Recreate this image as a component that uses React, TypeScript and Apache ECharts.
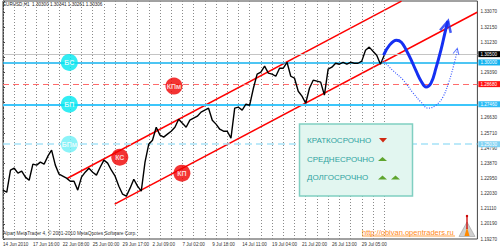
import React, { useEffect, useRef } from "react";
import * as echarts from "echarts";

// ---- axis scales ----
const PRICE_BASE = 1.1927; // lowest price label
const PRICE_STEP = 0.0092; // price label step
const PRICE_TICKS = 15.72; // visible label steps
const BARS_PER_LABEL = 64;
const BARS_PER_DAY = 24;
const BAR_STEP = 8;
const X_MAX = 1015.5;
const DAYS = 35;

const timeLabels = [
  "14 Jun 2010", "17 Jun 16:00", "22 Jun 08:00", "25 Jun 00:00", "29 Jun 17:00",
  "2 Jul 09:00", "7 Jul 02:00", "9 Jul 18:00", "14 Jul 11:00", "19 Jul 04:00",
  "21 Jul 20:00", "26 Jul 13:00", "29 Jul 05:00",
];

// EURUSD H1 closes, sampled every 8 bars
const closes = [
  1.2224, 1.2211, 1.2345, 1.2357, 1.2327, 1.2339, 1.2303, 1.2284, 1.2382, 1.2376,
  1.2394, 1.2382, 1.2430, 1.2467, 1.2376, 1.2321, 1.2309, 1.2297, 1.2278, 1.2278,
  1.2224, 1.2303, 1.2333, 1.2357, 1.2333, 1.2315, 1.2363, 1.2406, 1.2388, 1.2345,
  1.2309, 1.2248, 1.2199, 1.2187, 1.2236, 1.2290, 1.2248, 1.2218, 1.2394, 1.2503,
  1.2527, 1.2606, 1.2558, 1.2546, 1.2564, 1.2582, 1.2606, 1.2655, 1.2631, 1.2606,
  1.2649, 1.2661, 1.2673, 1.2698, 1.2710, 1.2722, 1.2649, 1.2625, 1.2594, 1.2582,
  1.2582, 1.2540, 1.2722, 1.2728, 1.2710, 1.2746, 1.2740, 1.2843, 1.2929, 1.2941,
  1.2977, 1.2935, 1.2929, 1.2916, 1.2965, 1.2965, 1.3001, 1.2916, 1.2904, 1.2825,
  1.2795, 1.2752, 1.2843, 1.2892, 1.2886, 1.2880, 1.2801, 1.2959, 1.2971, 1.2995,
  1.2989, 1.3001, 1.2989, 1.3001, 1.2995, 1.2995, 1.3008, 1.3074, 1.3093, 1.3068,
  1.3044, 1.2989, 1.3044,
];

// horizontal levels
const levelPrices = [1.305, 1.3, 1.2868, 1.2746, 1.2503];
// channel rays [bar, price]
const upperChannel = [[138, 1.2296], [853, 1.3372]];
const lowerChannel = [[239, 1.2139], [1015, 1.3305]];
// forecast paths [bar, price]
const forecastMain = [
  [814.7, 1.3044], [827.4, 1.3105], [842.2, 1.3135], [852.7, 1.3123], [863.3, 1.3074],
  [873.9, 1.3014], [884.5, 1.2947], [895.1, 1.2886], [905.6, 1.2850], [916.2, 1.2874],
  [926.8, 1.2965], [937.4, 1.3074], [945.9, 1.3178], [952.2, 1.3251],
];
const forecastAlt = [
  [812.6, 1.3014], [833.7, 1.2953], [857.0, 1.2892], [878.1, 1.2813], [895.1, 1.2758],
  [909.9, 1.2722], [926.8, 1.2740], [941.6, 1.2789], [954.3, 1.2880], [964.9, 1.2983],
  [973.4, 1.3087],
];
const arrowHeads = [[949.9, 1.3220], [971.1, 1.3068]];
// level tags [name, bar, price]
const tagNames = ["БС", "БП", "БПм", "КПм", "КС", "КП"];
const tagBars = [142, 142, 142, 366, 250, 383];
const tagPrices = [1.3, 1.2746, 1.2503, 1.2856, 1.2424, 1.2327];

const FONT = "Liberation Sans, Arial, sans-serif";
const toV = (p: number) => (p - PRICE_BASE) / PRICE_STEP;

export default function App() {
  const ref = useRef<HTMLDivElement>(null);
  useEffect(() => {
    if (!ref.current) return;
    const chart = echarts.init(ref.current, undefined, { renderer: "svg" });

    const levelStyles = [
      { color: "#c4c4c4", type: "solid", width: 1, bg: "#000000" },
      { color: "#12b2ef", type: "solid", width: 1.5, bg: "#12b2ef" },
      { color: "#ff6b6b", type: [6, 4], width: 1, bg: "#ff1010" },
      { color: "#3cc6fb", type: "solid", width: 2, bg: "#2cbcf5" },
      { color: "#a6e2f7", type: [7, 4], width: 1.5, bg: "#82d2f3" },
    ];
    const tagColors = ["#00e8f0", "#00e8f0", "#6ff0f6", "#f00000", "#f00000", "#f00000"];

    const days: number[] = [];
    for (let d = 0; d < DAYS; d++) days.push(d * BARS_PER_DAY);

    const option: any = {
      animation: false,
      backgroundColor: "#ffffff",
      grid: {
        left: 2, top: 1, width: 480, height: 238, show: true,
        borderColor: "#444", borderWidth: 1, backgroundColor: "#ffffff",
      },
      xAxis: {
        type: "value", min: 0, max: X_MAX, interval: BARS_PER_LABEL,
        axisLine: { show: false }, axisTick: { show: false }, splitLine: { show: false },
        axisLabel: {
          align: "left", fontSize: 4.6, color: "#333", margin: 3, fontFamily: FONT,
          formatter: (v: number) => {
            const k = Math.round(v / BARS_PER_LABEL);
            if (Math.abs(v - k * BARS_PER_LABEL) > 1e-6) return "";
            return timeLabels[k] || "";
          },
        },
      },
      yAxis: {
        type: "value", position: "right", min: 0, max: PRICE_TICKS, interval: 1,
        axisLine: { show: true, lineStyle: { color: "#444" } },
        axisTick: { show: true, length: 2, lineStyle: { color: "#444" } },
        splitLine: { show: false },
        axisLabel: {
          fontSize: 4.6, color: "#333", margin: 3, fontFamily: FONT,
          formatter: (v: number) => {
            if (Math.abs(v - Math.round(v)) > 1e-6) return "";
            const p = PRICE_BASE + v * PRICE_STEP;
            // labels hidden under the level boxes
            if (levelPrices.some((l) => Math.abs(l - p) < 0.0021)) return "";
            return p.toFixed(5);
          },
        },
      },
      series: [
        {
          type: "line", data: [], z: 1, silent: true,
          markLine: {
            silent: true, symbol: ["none", "none"], animation: false,
            label: { show: false },
            lineStyle: { type: [1, 2], color: "#8a8a8a", width: 1 },
            data: days.map((d) => ({ xAxis: d })),
          },
        },
        {
          type: "line", data: [], z: 3, silent: true,
          markLine: {
            silent: true, symbol: ["none", "none"], animation: false,
            data: levelPrices.map((p, i) => ({
              yAxis: toV(p),
              lineStyle: { color: levelStyles[i].color, type: levelStyles[i].type, width: levelStyles[i].width },
              label: {
                show: true, position: "end", distance: 1,
                formatter: p.toFixed(5), color: "#fff", fontSize: 4.6, fontFamily: FONT,
                backgroundColor: levelStyles[i].bg, padding: [0.5, 3, 0.5, 2],
              },
            })),
          },
        },
        {
          type: "line", z: 5, showSymbol: false, silent: true,
          data: closes.map((p, i) => [i * BAR_STEP, toV(p)]),
          lineStyle: { color: "#000", width: 1.4 },
        },
        {
          type: "line", z: 4, showSymbol: false, silent: true,
          data: upperChannel.map(([b, p]) => [b, toV(p)]),
          lineStyle: { color: "#ff0000", width: 1.5 },
        },
        {
          type: "line", z: 4, showSymbol: false, silent: true,
          data: lowerChannel.map(([b, p]) => [b, toV(p)]),
          lineStyle: { color: "#ff0000", width: 1.5 },
        },
        {
          type: "line", z: 6, showSymbol: false, silent: true, smooth: 0.4,
          data: forecastMain.map(([b, p]) => [b, toV(p)]),
          lineStyle: { color: "#1530f2", width: 3 },
        },
        {
          type: "line", z: 6, showSymbol: false, silent: true, smooth: 0.4,
          data: forecastAlt.map(([b, p]) => [b, toV(p)]),
          lineStyle: { color: "#3a58ff", width: 1.2, type: [1, 1.5] },
        },
        {
          type: "scatter", z: 7, silent: true,
          symbol: "path://M0,12 L6,0 L12,12",
          data: [
            { value: [arrowHeads[0][0], toV(arrowHeads[0][1])], symbolSize: [11, 11], symbolRotate: -14,
              itemStyle: { color: "rgba(0,0,0,0)", borderColor: "#1530f2", borderWidth: 2.5 } },
            { value: [arrowHeads[1][0], toV(arrowHeads[1][1])], symbolSize: [6, 6], symbolRotate: -13,
              itemStyle: { color: "rgba(0,0,0,0)", borderColor: "#3a58ff", borderWidth: 1 } },
          ],
        },
        {
          type: "scatter", z: 10, silent: true, symbolSize: 17,
          data: tagNames.map((n, i) => ({
            name: n, value: [tagBars[i], toV(tagPrices[i])],
            itemStyle: { color: tagColors[i] },
          })),
          label: {
            show: true, position: "inside", formatter: "{b}", color: "#fff",
            fontSize: 7, fontFamily: FONT, fontWeight: "bold",
          },
        },
      ],
      graphic: [
        { type: "text", z: 100, left: 3, top: 2,
          style: { text: "EURUSD,H1  1.30300 1.30341 1.30261 1.30306", fontSize: 4.6, fill: "#222", fontFamily: FONT } },
        { type: "text", z: 100, left: 3, top: 231,
          style: { text: "Alpari MetaTrader 4, © 2001-2010 MetaQuotes Software Corp.", fontSize: 4.8, fill: "#333", fontFamily: FONT } },
        { type: "rect", z: 100, shape: { x: 299.5, y: 124, width: 113, height: 72 },
          style: { fill: "#e2f6f0", stroke: "#80cfc1", lineWidth: 1.5 } },
        { type: "text", z: 101, x: 307, y: 140.5,
          style: { text: "КРАТКОСРОЧНО", fontSize: 8, fill: "#2fa3a0", fontFamily: FONT, verticalAlign: "middle" } },
        { type: "text", z: 101, x: 307, y: 159,
          style: { text: "СРЕДНЕСРОЧНО", fontSize: 8, fill: "#2fa3a0", fontFamily: FONT, verticalAlign: "middle" } },
        { type: "text", z: 101, x: 307, y: 177.5,
          style: { text: "ДОЛГОСРОЧНО", fontSize: 8, fill: "#2fa3a0", fontFamily: FONT, verticalAlign: "middle" } },
        { type: "polygon", z: 101, shape: { points: [[379, 138], [387, 138], [383, 142.5]] }, style: { fill: "#d02a12" } },
        { type: "polygon", z: 101, shape: { points: [[378, 161], [387, 161], [382.5, 157]] }, style: { fill: "#5ea52e" } },
        { type: "polygon", z: 101, shape: { points: [[378, 179.5], [387, 179.5], [382.5, 175.5]] }, style: { fill: "#5ea52e" } },
        { type: "polygon", z: 101, shape: { points: [[391, 179.5], [400, 179.5], [395.5, 175.5]] }, style: { fill: "#5ea52e" } },
        { type: "text", z: 100, x: 362, y: 232,
          style: { text: "http://obivan.opentraders.ru", fontSize: 7.5, fill: "#ff8a1a", fontFamily: FONT, verticalAlign: "middle" } },
        { type: "line", z: 100, shape: { x1: 362, y1: 236, x2: 455, y2: 236 }, style: { stroke: "#ff8a1a", lineWidth: 0.8 } },
        { type: "polygon", z: 100, shape: { points: [[459, 236.5], [467, 222], [475, 236.5]] }, style: { fill: "#cfcfcf", stroke: "#9a9a9a", lineWidth: 0.6 } },
        { type: "polygon", z: 101, shape: { points: [[464.5, 236], [467, 227], [469.5, 236]] }, style: { fill: "#ff8a00" } },
        { type: "line", z: 102, shape: { x1: 467, y1: 215.5, x2: 467, y2: 229 }, style: { stroke: "#cc0000", lineWidth: 1.3 } },
        { type: "circle", z: 102, shape: { cx: 467, cy: 216, r: 1.2 }, style: { fill: "#cc0000" } },
      ],
    };
    chart.setOption(option);
    return () => chart.dispose();
  }, []);
  return (
    <div
      ref={ref}
      style={{ position: "absolute", left: 0, top: 0, width: 500, height: 249, background: "#fff" }}
    />
  );
}
